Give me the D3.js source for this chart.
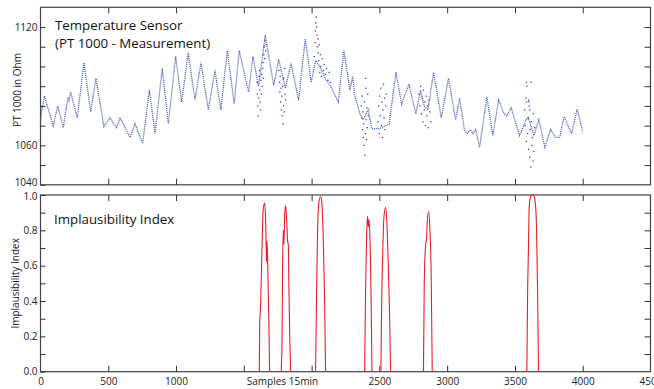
<!DOCTYPE html>
<html><head><meta charset="utf-8">
<script src="https://cdn.jsdelivr.net/npm/d3@7"></script>
<style>body{margin:0;background:#fff}svg{display:block}text{font-family:"Open Sans",sans-serif}</style>
</head><body><svg id="c" width="654" height="389"></svg>
<script>
// ---- DATA ----
const sensorSamples = [0,10,28,94,127,168,203,212,222,271,321,370,409,468,513,540,562,586,610,660,697,754,803,845,898,943,997,1041,1090,1139,1184,1238,1287,1331,1378,1429,1466,1535,1567,1609,1658,1720,1757,1806,1848,1904,1953,1997,2030,2060,2100,2140,2197,2238,2283,2302,2320,2356,2380,2418,2443,2504,2573,2622,2664,2718,2769,2804,2830,2858,2900,2956,3010,3062,3092,3128,3150,3170,3190,3210,3239,3293,3337,3379,3420,3440,3472,3534,3583,3600,3640,3676,3721,3763,3800,3830,3863,3918,3959,3999];
const sensorValues = [1072,1078,1085,1070,1080,1069,1084.5,1082,1087,1074,1102,1077,1094,1069.5,1074,1071,1069,1074,1071,1064,1071,1061,1088,1066,1099,1071,1105,1082,1107,1083,1102,1078,1098,1078,1108,1081,1108,1087,1105,1090,1116,1090.5,1103.5,1089,1101.5,1083,1114,1092,1103,1100,1094,1090,1082,1108,1088,1095,1085,1076,1073,1078,1068.5,1068.5,1071,1097,1081,1091,1076,1088,1080,1078,1097,1074,1094,1073,1084,1067.5,1066,1068,1066,1068,1059,1084.5,1065,1083,1076,1075,1079,1065,1073,1074,1065,1073,1059,1068,1064,1064,1074.5,1066,1078.5,1067];

const outlierSamples = [1597,1600,1603,1606,1610,1612,1615,1618,1620,1623,1626,1629,1632,1635,1638,1641,1644,1647,1650,1653,1656,1660,1663,
 1758,1762,1765,1768,1771,1774,1777,1780,1783,1786,1789,1792,1795,1798,1801,1804,1808,
 2020,2025,2028,2031,2034,2037,2040,2043,2046,2049,2052,2056,2060,2064,2068,2072,2078,2085,2092,2100,2110,2120,2130,2140,
 2366,2369,2372,2375,2378,2381,2384,2387,2390,2393,2396,2398,2399,2402,2405,2408,2411,2414,2418,
 2490,2494,2498,2502,2506,2510,2514,2518,2522,2526,2530,2534,2538,2542,2546,2550,
 2792,2798,2804,2810,2815,2820,2825,2830,2835,2840,2845,2850,2855,2860,2866,2872,2880,
 3572,3576,3580,3584,3585,3588,3592,3596,3600,3601,3604,3608,3612,3616,3617,3620,3624,3628,3632,3636,3640,3645,3586,3602,3610];
const outlierValues = [1092,1086,1080,1075,1084,1095,1098,1088,1082,1078,1093,1086,1096,1090,1099,1102,1094,1106,1110,1104,1113,1108,1111,
 1098,1092,1087,1095,1082,1089,1078,1085,1075,1090,1071,1080,1094,1077,1099,1086,1083,
 1105,1112,1118,1122,1125,1120,1116,1110,1114,1107,1103,1111,1097,1106,1100,1095,1104,1098,1101,1096,1099,1093,1097,1092,
 1080,1074,1085,1068,1077,1064,1071,1060,1082,1055,1066,1094,1089,1073,1063,1079,1069,1086,1075,
 1072,1080,1066,1085,1075,1089,1070,1082,1064,1078,1091,1074,1084,1068,1080,1086,
 1086,1080,1090,1076,1084,1072,1088,1078,1082,1070,1085,1075,1080,1069,1083,1077,1072,
 1078,1070,1084,1062,1092,1090,1066,1074,1058,1083,1080,1054,1068,1049,1092,1072,1060,1064,1052,1076,1057,1069,1082,1082,1078];

// Implausibility index bumps: [samples], [values]
const bumpSamples = [
 [1614,1617,1624,1634,1643,1653,1661,1668,1671,1676,1680,1685,1690],
 [1776,1779,1781,1786,1791,1796,1801,1808,1816,1823,1828,1833,1840,1845],
 [2029,2037,2044,2054,2066,2076,2086,2096,2103],
 [2391,2398,2406,2413,2418,2423,2428,2435,2440,2445],
 [2511,2516,2524,2533,2546,2555,2565,2573,2583],
 [2825,2831,2841,2848,2853,2863,2873,2882,2890],
 [3588,3593,3600,3605,3612,3623,3634,3645,3654,3659,3667,3674]
];
const bumpValues = [
 [0,0.27,0.38,0.70,0.92,0.955,0.85,0.62,0.74,0.62,0.45,0.27,0],
 [0,0.08,0.12,0.60,0.80,0.72,0.88,0.94,0.86,0.74,0.72,0.45,0.15,0],
 [0,0.45,0.80,0.96,0.99,0.95,0.75,0.40,0],
 [0,0.45,0.78,0.88,0.82,0.86,0.80,0.60,0.35,0],
 [0,0.35,0.65,0.87,0.93,0.85,0.62,0.40,0],
 [0,0.50,0.72,0.75,0.85,0.905,0.80,0.55,0],
 [0,0.42,0.71,0.93,0.98,1.0,1.0,0.98,0.92,0.82,0.46,0]
];

const xTicks = [0,500,1000,1500,2000,2500,3000,3500,4000,4500];
const xLabelHidden = [1500,2000];
const topYTicks = [1040,1050,1060,1070,1080,1090,1100,1110,1120];
const topYLabels = [1040,1060,1120];
const botYTicks = [0,0.1,0.2,0.3,0.4,0.5,0.6,0.7,0.8,0.9,1.0];
const botYLabels = [0,0.2,0.4,0.6,0.8,1.0];

// ---- CHART ----
const svg = d3.select("#c");
const L = 40.5, R = 650.5;
const x = d3.scaleLinear().domain([0,4500]).range([L,R]);
const yT = d3.scaleLinear().domain([1040,1130]).range([184.8,7.3]);
const yB = d3.scaleLinear().domain([0,1]).range([371.7,195]);
const axisCol = "#333";

function styleAxis(g){
  g.select(".domain").remove();
  g.selectAll(".tick line").attr("stroke",axisCol).attr("stroke-width",1);
  g.selectAll(".tick text").attr("fill","#222").style("font-size","10px");
}

function panel(y, yTicks, yLabels, fmt, showX, labelShift){
  const [y0,y1] = y.range();
  svg.append("rect").attr("x",L).attr("y",y1).attr("width",R-L).attr("height",y0-y1)
    .attr("fill","none").attr("stroke","#444").attr("stroke-width",1.2);
  svg.append("g").attr("transform",`translate(${L},0)`)
    .call(d3.axisLeft(y).tickValues(yTicks).tickSizeInner(-5).tickSizeOuter(0).tickPadding(3)
      .tickFormat(d => yLabels.some(v=>Math.abs(v-d)<1e-9) ? fmt(d) : ""))
    .call(styleAxis)
    .call(g=>g.selectAll(".tick text").attr("y",d=>labelShift(d)));
  svg.append("g").attr("transform",`translate(${R},0)`)
    .call(d3.axisRight(y).tickValues(yTicks.filter(d=>d!==y.domain()[0]&&d!==y.domain()[1])).tickSizeInner(-6).tickSizeOuter(0).tickFormat(""))
    .call(styleAxis);
  svg.append("g").attr("transform",`translate(0,${y1})`)
    .call(d3.axisTop(x).tickValues(xTicks.filter(d=>d>0&&d<4500)).tickSizeInner(-6).tickSizeOuter(0).tickFormat(""))
    .call(styleAxis);
  svg.append("g").attr("transform",`translate(0,${y0})`)
    .call(d3.axisBottom(x).tickValues(showX ? xTicks : xTicks.filter(d=>d>0&&d<4500)).tickSizeInner(-6).tickSizeOuter(0).tickPadding(6)
      .tickFormat(d => showX && !xLabelHidden.includes(d) ? d : ""))
    .call(styleAxis)
    .call(g=>g.selectAll(".tick line").filter(d=>d===0||d===4500).remove());
}

panel(yT, topYTicks, topYLabels, d=>d, false, d => d===1040 ? -2.5 : 0);
panel(yB, botYTicks, botYLabels, d=>d.toFixed(1), true, d => d===1 ? 1.5 : 0);

// sensor trace (dotted)
const sensor = sensorSamples.map((s,i)=>[s,sensorValues[i]]);
svg.append("path").datum(sensor)
  .attr("d", d3.line().x(d=>x(d[0])).y(d=>yT(d[1])))
  .attr("fill","none").attr("stroke","#3f55ab").attr("stroke-width",1.3)
  .attr("stroke-dasharray","1.1 0.9").attr("opacity",0.9);

// outliers
svg.append("g").selectAll("rect").data(outlierSamples.map((s,i)=>[s,outlierValues[i]]))
  .join("rect").attr("x",d=>x(d[0])-0.6).attr("y",d=>yT(d[1])-0.6)
  .attr("width",1.3).attr("height",1.3).attr("fill","#3548a0");

// implausibility index
const red = d3.line().x(d=>x(d[0])).y(d=>yB(d[1])).curve(d3.curveMonotoneX);
bumpSamples.forEach((ss,k)=>{
  svg.append("path").datum(ss.map((s,i)=>[s,bumpValues[k][i]]))
    .attr("d",red).attr("fill","none").attr("stroke","#e8202a").attr("stroke-width",1.1);
});

// titles
const t1 = svg.append("text").attr("x",55).attr("y",30).attr("fill","#111").style("font-size","13.3px");
t1.append("tspan").attr("x",55).text("Temperature Sensor");
t1.append("tspan").attr("x",55).attr("dy",18.3).text("(PT 1000 - Measurement)");
svg.append("text").attr("x",54).attr("y",224).attr("fill","#111").style("font-size","13.3px").text("Implausibility Index");

// axis titles
svg.append("text").attr("transform",`translate(21,90) rotate(-90)`).attr("text-anchor","middle")
  .attr("fill","#222").style("font-size","10px").text("PT 1000 in Ohm");
svg.append("text").attr("transform",`translate(19,${(yB.range()[0]+yB.range()[1])/2}) rotate(-90)`).attr("text-anchor","middle")
  .attr("fill","#222").style("font-size","10px").text("Implausibility Index");
svg.append("text").attr("x",x(1785)).attr("y",yB.range()[0]+13.3).attr("text-anchor","middle")
  .attr("fill","#222").style("font-size","10px").text("Samples 15min");
</script></body></html>
